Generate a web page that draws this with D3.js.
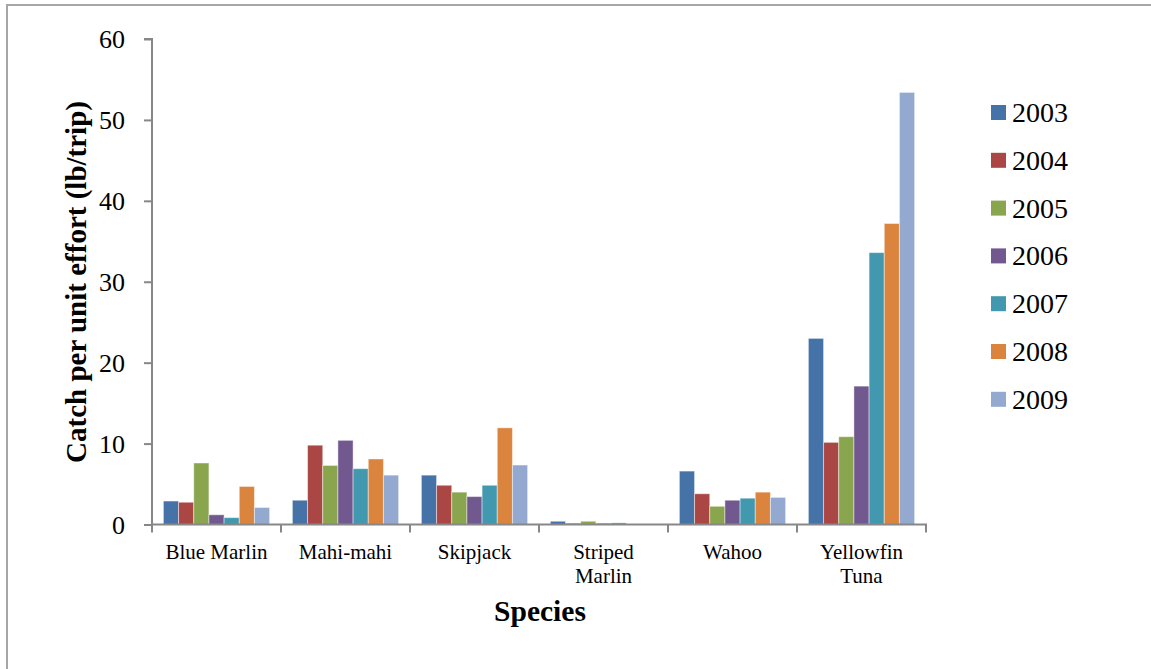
<!DOCTYPE html>
<html>
<head>
<meta charset="utf-8">
<script src="https://cdn.jsdelivr.net/npm/d3@7"></script>
<style>
  html, body { margin: 0; padding: 0; background: #fff; }
  svg { display: block; }
</style>
</head>
<body>
<svg id="chart" width="1151" height="669"></svg>
<script>
const categories = ["Blue Marlin", "Mahi-mahi", "Skipjack", "Striped Marlin", "Wahoo", "Yellowfin Tuna"];
const categoryLabels = [["Blue Marlin"], ["Mahi-mahi"], ["Skipjack"], ["Striped", "Marlin"], ["Wahoo"], ["Yellowfin", "Tuna"]];
const years = ["2003", "2004", "2005", "2006", "2007", "2008", "2009"];
const v2003 = [2.9, 3.0, 6.1, 0.4, 6.6, 23.0];
const v2004 = [2.75, 9.8, 4.85, 0.15, 3.8, 10.15];
const v2005 = [7.6, 7.3, 4.0, 0.4, 2.25, 10.85];
const v2006 = [1.2, 10.4, 3.45, 0.15, 3.0, 17.1];
const v2007 = [0.85, 6.9, 4.85, 0.2, 3.25, 33.6];
const v2008 = [4.7, 8.1, 11.95, 0.0, 4.0, 37.2];
const v2009 = [2.1, 6.1, 7.35, 0.0, 3.35, 53.4];
const seriesValues = [v2003, v2004, v2005, v2006, v2007, v2008, v2009];
const yTicks = [0, 10, 20, 30, 40, 50, 60];
const colors = ["#4572A7", "#AA4643", "#89A54E", "#71588F", "#4198AF", "#DB843D", "#93A9CF"];
const yTitle = "Catch per unit effort (lb/trip)";
const xTitle = "Species";

const svg = d3.select("#chart");
const serif = "'Liberation Serif', 'Times New Roman', serif";
const axisColor = "#878787";

// outer frame (left and top visible)
svg.append("line").attr("x1", 7).attr("x2", 7).attr("y1", 5).attr("y2", 669)
  .attr("stroke", "#a6a6a6").attr("stroke-width", 2);
svg.append("line").attr("x1", 6).attr("x2", 1151).attr("y1", 5).attr("y2", 5)
  .attr("stroke", "#a6a6a6").attr("stroke-width", 2);

const plot = { left: 152, right: 926, top: 39, bottom: 524.5 };

const x0 = d3.scaleBand().domain(categories).range([plot.left, plot.right]).padding(0);
const x1 = d3.scaleBand().domain(years).range([0, x0.bandwidth()]).paddingInner(0).paddingOuter(0.75);
const y = d3.scaleLinear().domain([0, 60]).range([plot.bottom, plot.top]);

// bars
const groups = svg.append("g").selectAll("g")
  .data(categories)
  .join("g")
  .attr("transform", d => `translate(${x0(d)},0)`);

groups.selectAll("rect")
  .data((c, ci) => years.map((yr, si) => ({ yr, si, v: seriesValues[si][ci] })))
  .join("rect")
  .filter(d => d.v > 0)
  .attr("x", d => x1(d.yr))
  .attr("width", x1.bandwidth())
  .attr("y", d => y(d.v))
  .attr("height", d => y(0) - y(d.v))
  .attr("fill", d => colors[d.si])
  .attr("stroke", "rgba(255,255,255,0.45)")
  .attr("stroke-width", 1);

// y axis
const yAxis = d3.axisLeft(y).tickValues(yTicks).tickSize(8).tickPadding(19).tickFormat(d3.format("d"));
const gy = svg.append("g").attr("transform", `translate(${plot.left},0)`).call(yAxis);
gy.select(".domain").attr("stroke", axisColor).attr("stroke-width", 2).attr("d", `M-8,${plot.top}H0V${plot.bottom}`);
gy.selectAll(".tick line").attr("stroke", axisColor).attr("stroke-width", 2);
gy.selectAll(".tick text").attr("font-family", serif).attr("font-size", 26).attr("fill", "#000").attr("dy", "0.34em");

// x axis
const boundaries = categories.map(c => x0(c)).concat([plot.right]);
const gx = svg.append("g");
gx.append("line").attr("x1", plot.left - 1).attr("x2", plot.right + 1).attr("y1", plot.bottom).attr("y2", plot.bottom)
  .attr("stroke", axisColor).attr("stroke-width", 2);
gx.selectAll("line.tk").data(boundaries).join("line").attr("class", "tk")
  .attr("x1", d => d).attr("x2", d => d).attr("y1", plot.bottom).attr("y2", plot.bottom + 8)
  .attr("stroke", axisColor).attr("stroke-width", 2);
const xl = gx.selectAll("text.cat").data(categories).join("text").attr("class", "cat")
  .attr("x", d => x0(d) + x0.bandwidth() / 2)
  .attr("y", 559)
  .attr("text-anchor", "middle")
  .attr("font-family", serif).attr("font-size", 21).attr("fill", "#000");
xl.each(function (d, i) {
  d3.select(this).selectAll("tspan").data(categoryLabels[i]).join("tspan")
    .attr("x", x0(d) + x0.bandwidth() / 2)
    .attr("dy", (t, j) => j === 0 ? 0 : 24)
    .text(t => t);
});

// axis titles
svg.append("text")
  .attr("transform", `translate(86,282) rotate(-90)`)
  .attr("text-anchor", "middle")
  .attr("font-family", serif).attr("font-weight", "bold").attr("font-size", 29).attr("fill", "#000")
  .text(yTitle);
svg.append("text")
  .attr("x", 540).attr("y", 621)
  .attr("text-anchor", "middle")
  .attr("font-family", serif).attr("font-weight", "bold").attr("font-size", 29.5).attr("fill", "#000")
  .text(xTitle);

// legend
const lg = svg.append("g").selectAll("g").data(years).join("g")
  .attr("transform", (d, i) => `translate(991,${105 + i * 47.8})`);
lg.append("rect").attr("width", 15).attr("height", 15).attr("fill", (d, i) => colors[i]);
lg.append("text").attr("x", 21).attr("y", 17)
  .attr("font-family", serif).attr("font-size", 28).attr("fill", "#000")
  .text(d => d);
</script>
</body>
</html>
